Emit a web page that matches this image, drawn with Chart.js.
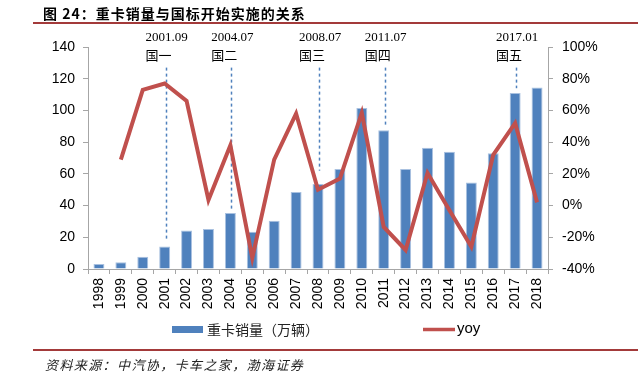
<!DOCTYPE html>
<html>
<head>
<meta charset="utf-8">
<script src="https://cdn.jsdelivr.net/npm/chart.js@4.4.1/dist/chart.umd.min.js"></script>
<style>
html,body{margin:0;padding:0;background:#fff;}
#wrap{position:relative;width:643px;height:373px;overflow:hidden;}
#c{position:absolute;left:0;top:0;}
#title{position:absolute;left:43px;top:3px;font:bold 14px "Noto Sans CJK SC",sans-serif;color:#000;letter-spacing:1px;white-space:nowrap;}
#rule1{position:absolute;left:33px;top:22px;width:605px;height:2px;background:#a33a3a;}
#rule2{position:absolute;left:33px;top:349px;width:605px;height:2px;background:#a33a3a;}
#src{position:absolute;left:45px;top:355px;font:italic 13px "Noto Sans CJK SC",sans-serif;color:#222;letter-spacing:1.4px;white-space:nowrap;}
</style>
</head>
<body>
<div id="wrap">
<canvas id="c" width="643" height="373"></canvas>
<div id="title">图 24：重卡销量与国标开始实施的关系</div>
<div id="rule1"></div>
<div id="rule2"></div>
<div id="src">资料来源：中汽协，卡车之家，渤海证券</div>
</div>
<script>
const years = ['1998','1999','2000','2001','2002','2003','2004','2005','2006','2007','2008','2009','2010','2011','2012','2013','2014','2015','2016','2017','2018'];
const sales = [3.2,4.3,7.8,14.2,24.3,25.3,35.3,23.5,30.5,48.6,53.6,63.0,101.5,87.5,63.0,76.5,74.0,54.5,73.0,111.0,114.5];
const yoy = [null,0.29,0.73,0.77,0.66,0.035,0.38,-0.33,0.29,0.58,0.10,0.17,0.585,-0.135,-0.28,0.205,-0.03,-0.26,0.32,0.52,0.02];
const salesTicks = [0,20,40,60,80,100,120,140];
const yoyTicks = [-0.4,-0.2,0,0.2,0.4,0.6,0.8,1.0];
const eventDates = ['2001.09','2004.07','2008.07','2011.07','2017.01'];
const eventStandards = ['国一','国二','国三','国四','国五'];
const eventYears = ['2001','2004','2008','2011','2017'];
const eventLineTop = [127,127,127,127,127];
const eventLineBottom = [19,38,62,91,114];
const seriesNames = ['重卡销量（万辆）','yoy'];

const axisColor = '#a6a6a6';
const tickFont = {family:'"Liberation Sans", Arial, sans-serif', size:14};

const eventsPlugin = {
  id:'events',
  beforeDatasetsDraw(chart){
    const ctx = chart.ctx, x = chart.scales.x, y = chart.scales.y;
    ctx.save();
    ctx.strokeStyle = '#4f81bd';
    ctx.lineWidth = 1.5;
    ctx.setLineDash([3,3]);
    eventYears.forEach((yr,i)=>{
      const px = Math.round(x.getPixelForValue(years.indexOf(yr)))+1.5;
      ctx.beginPath();
      ctx.moveTo(px, y.getPixelForValue(eventLineTop[i]));
      ctx.lineTo(px, y.getPixelForValue(eventLineBottom[i]));
      ctx.stroke();
    });
    ctx.restore();
  },
  afterDraw(chart){
    const ctx = chart.ctx, x = chart.scales.x;
    ctx.save();
    ctx.fillStyle = '#000';
    ctx.textBaseline = 'middle';
    eventYears.forEach((yr,i)=>{
      const px = x.getPixelForValue(years.indexOf(yr))+2;
      ctx.font = '13px "Liberation Serif","Times New Roman",serif';
      const w = ctx.measureText(eventDates[i]).width;
      const left = px - w/2;
      ctx.textAlign = 'left';
      ctx.fillText(eventDates[i], left, 38);
      ctx.font = '13px "Noto Sans CJK SC",serif';
      ctx.fillText(eventStandards[i], left, 55);
    });
    // legend
    ctx.font = '14px "Noto Sans CJK SC",sans-serif';
    ctx.fillStyle = '#4f81bd';
    ctx.fillRect(172,326,31,7);
    ctx.fillStyle = '#222';
    ctx.textAlign='left';
    ctx.fillText(seriesNames[0], 207, 330);
    ctx.strokeStyle = '#c0504d';
    ctx.lineWidth = 3.5;
    ctx.beginPath(); ctx.moveTo(423,329.5); ctx.lineTo(455,329.5); ctx.stroke();
    ctx.font = '15px "Liberation Sans",Arial,sans-serif';
    ctx.fillStyle = '#000';
    ctx.fillText(seriesNames[1], 457, 329);
    ctx.restore();
  }
};

new Chart(document.getElementById('c'), {
  data:{
    labels: years,
    datasets:[
      {type:'line', label:seriesNames[1], data:yoy, yAxisID:'y1', borderColor:'#c0504d', borderWidth:4, pointRadius:0, tension:0, order:0, spanGaps:false, borderJoinStyle:'miter'},
      {type:'bar', label:seriesNames[0], data:sales, yAxisID:'y', backgroundColor:'#4f81bd', borderColor:'#a9c1e0', borderWidth:{left:1,right:1,top:1,bottom:0}, barPercentage:0.5, categoryPercentage:1.0, order:1}
    ]
  },
  options:{
    responsive:false,
    animation:false,
    events:[],
    layout:{padding:{top:47,left:0,right:0,bottom:0}},
    plugins:{legend:{display:false},tooltip:{enabled:false}},
    scales:{
      x:{
        offset:true,
        grid:{display:true, drawOnChartArea:false, drawTicks:true, tickLength:5, color:axisColor, offset:true},
        border:{display:true,color:axisColor,width:1},
        ticks:{minRotation:90,maxRotation:90,color:'#000',font:tickFont,padding:4,autoSkip:false},
        afterFit(s){ s.height = 104; }
      },
      y:{
        position:'left', min:0, max:140,
        afterBuildTicks(s){ s.ticks = salesTicks.map(v=>({value:v})); },
        grid:{display:true, drawOnChartArea:false, drawTicks:true, tickLength:5, color:axisColor},
        border:{display:true,color:axisColor,width:1},
        ticks:{color:'#000',font:tickFont,padding:8},
        afterFit(s){ s.width = 88; }
      },
      y1:{
        position:'right', min:-0.4, max:1.0,
        afterBuildTicks(s){ s.ticks = yoyTicks.map(v=>({value:v})); },
        grid:{display:true, drawOnChartArea:false, drawTicks:true, tickLength:5, color:axisColor},
        border:{display:true,color:axisColor,width:1},
        ticks:{color:'#000',font:tickFont,padding:9,callback:(v)=>Math.round(v*100)+'%'},
        afterFit(s){ s.width = 95; }
      }
    }
  },
  plugins:[eventsPlugin]
});
</script>
</body>
</html>
